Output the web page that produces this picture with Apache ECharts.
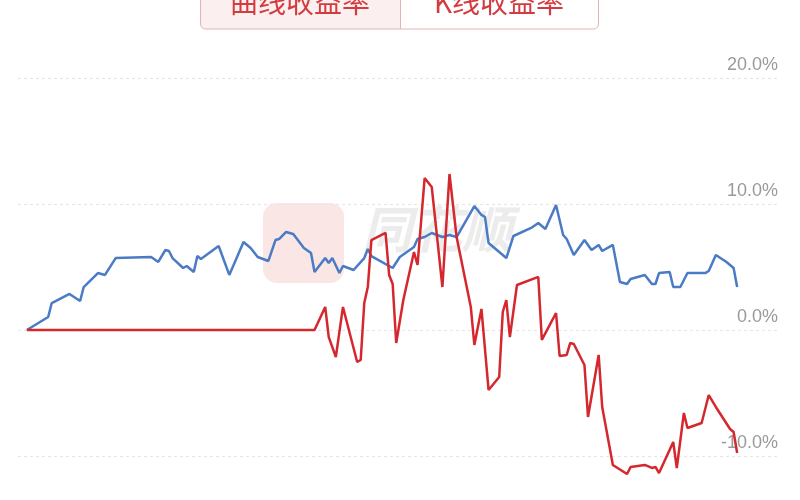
<!DOCTYPE html>
<html>
<head>
<meta charset="utf-8">
<script src="https://cdn.jsdelivr.net/npm/echarts@6/dist/echarts.min.js"></script>
<style>html,body{margin:0;padding:0;background:#fff;}#c{width:800px;height:500px;}</style>
</head>
<body>
<div id="c"></div>
<script>
// Trading-day index of each vertex and the return (%) at that day
const curveDays = [0,6,7,12,15,16,20,22,25,35,37,39,40,41,44,45,47,48,49,54,57,61,63,65,68,70,71,73,75,78,80,81,84,85,86,88,89,92,95,96,97,103,105,109,110,112,114,117,119,121,126,128,129,130,135,137,142,144,146,149,151,152,154,157,159,161,162,165,167,169,170,174,176,177,178,181,182,184,186,191,192,194,197,199,200];
const curveValues = [0,1.03,2.14,2.86,2.30,3.41,4.52,4.37,5.71,5.79,5.40,6.35,6.27,5.71,4.92,5.08,4.60,5.87,5.63,6.67,4.37,6.98,6.51,5.79,5.48,7.14,7.22,7.78,7.62,6.51,6.11,4.60,5.71,5.32,5.71,4.52,5.08,4.76,5.71,6.43,5.87,4.92,5.79,6.59,7.22,7.38,7.70,7.38,7.54,7.38,9.84,9.13,8.97,6.90,5.71,7.46,8.10,8.49,8.02,9.92,7.54,7.22,5.95,7.14,6.35,6.75,6.27,6.75,3.81,3.65,4.05,4.37,3.65,3.65,4.52,4.60,3.41,3.41,4.52,4.52,4.68,5.95,5.40,4.92,3.41];
const kDays = [0,81,84,85,87,89,93,94,95,96,97,101,102,103,104,106,109,110,112,114,117,119,121,125,126,128,130,133,134,135,136,138,144,145,149,150,152,153,154,157,158,161,162,165,169,170,174,176,177,178,182,183,185,186,190,192,194,198,199,200];
const kValues = [0,0,1.83,-0.56,-2.14,1.83,-2.54,-2.38,2.14,3.41,7.14,7.70,4.37,3.65,-1.03,2.38,6.19,5.16,12.06,11.35,3.41,12.38,7.38,1.83,-1.19,1.67,-4.76,-3.73,1.43,2.38,-0.56,3.57,4.21,-0.79,1.35,-2.06,-1.98,-1.03,-1.11,-2.78,-6.90,-1.98,-6.11,-10.71,-11.43,-10.87,-10.71,-10.95,-10.87,-11.35,-8.89,-10.95,-6.59,-7.78,-7.38,-5.16,-6.11,-7.86,-8.10,-9.76];
const yTicks = [-10, 0, 10, 20];
const tabLabels = ['曲线收益率', 'K线收益率'];
const watermarkText = '同花顺';

const zip = (a, b) => a.map((d, i) => [d, b[i]]);
const chart = echarts.init(document.getElementById('c'), null, {renderer: 'canvas'});
chart.setOption({
  animation: false,
  backgroundColor: '#ffffff',
  grid: {left: 18, right: 22, top: 78, bottom: 44, containLabel: false},
  xAxis: {type: 'value', min: -2.5, max: 211.5, show: false},
  yAxis: {
    type: 'value', position: 'right',
    min: yTicks[0], max: yTicks[yTicks.length - 1], interval: 10,
    axisLine: {show: false}, axisTick: {show: false},
    axisLabel: {
      inside: true, margin: 0, align: 'right', verticalAlign: 'bottom',
      padding: [0, 0, 4, 0],
      color: '#9a9a9a', fontSize: 18, fontFamily: 'Liberation Sans, Arial, sans-serif',
      formatter: v => v.toFixed(1) + '%'
    },
    splitLine: {show: true, lineStyle: {color: '#e6e6e6', width: 1.2, type: [3, 3]}}
  },
  graphic: [
    {type: 'rect', silent: true, z: 0, shape: {x: 263, y: 203, width: 81, height: 80, r: 14}, style: {fill: '#f9dede', opacity: 0.75}},
    {type: 'text', silent: true, z: 0, left: 362, top: 204, style: {text: watermarkText, font: 'italic bold 50px "Noto Sans CJK SC"', fill: '#ececec'}},
    {type: 'rect', z: 10, shape: {x: 200.5, y: -12, width: 200, height: 41, r: [0, 0, 0, 5]}, style: {fill: '#fcefef', stroke: '#e4b4b4', lineWidth: 1}},
    {type: 'rect', z: 10, shape: {x: 400.5, y: -12, width: 198, height: 41, r: [0, 0, 5, 0]}, style: {fill: '#ffffff', stroke: '#e4b4b4', lineWidth: 1}},
    {type: 'text', z: 11, x: 300, y: 2, style: {text: tabLabels[0], font: '28px "Noto Sans CJK SC"', fill: '#d23c40', align: 'center', verticalAlign: 'middle'}},
    {type: 'text', z: 11, x: 499, y: 2, style: {text: tabLabels[1], font: '28px "Noto Sans CJK SC"', fill: '#d23c40', align: 'center', verticalAlign: 'middle'}}
  ],
  series: [
    {name: tabLabels[0], type: 'line', data: zip(curveDays, curveValues), showSymbol: false, clip: false, z: 3,
     lineStyle: {color: '#4a7bc4', width: 2.5}},
    {name: tabLabels[1], type: 'line', data: zip(kDays, kValues), showSymbol: false, clip: false, z: 4,
     lineStyle: {color: '#d4282e', width: 2.5}}
  ]
});
</script>
</body>
</html>
